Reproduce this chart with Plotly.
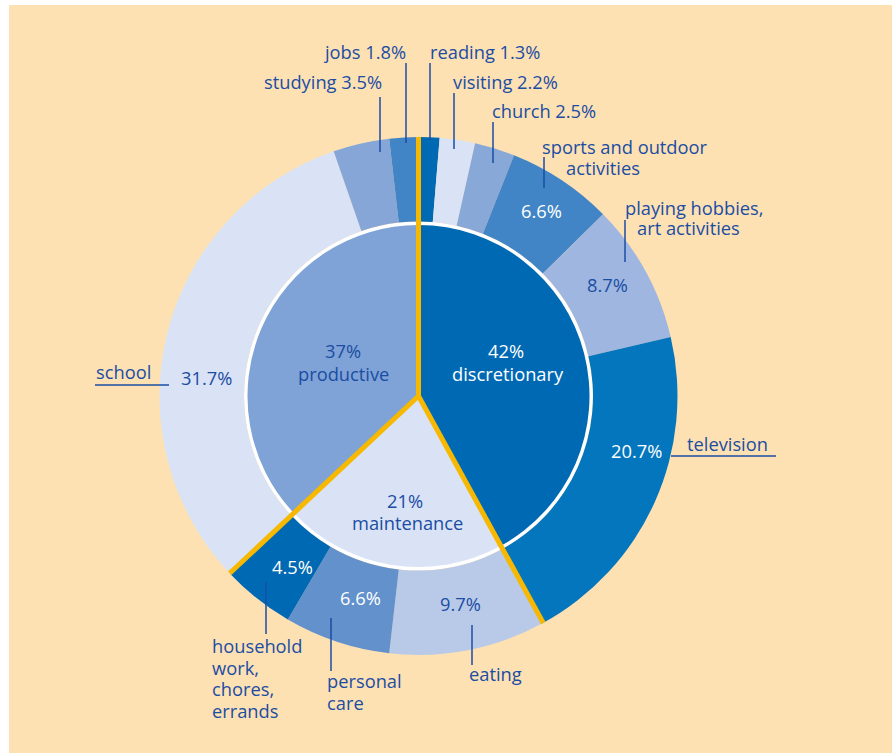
import math
import plotly.graph_objects as go

# ---------------- data ----------------
inner_labels = ["discretionary", "maintenance", "productive"]
inner_values = [42, 21, 37]
inner_colors = ["#0069B4", "#D9E3F5", "#7FA3D6"]

outer_labels = ["reading", "visiting", "church", "sports and outdoor activities",
                "playing hobbies, art activities", "television", "eating",
                "personal care", "household work, chores, errands", "school",
                "studying", "jobs"]
outer_values = [1.3, 2.2, 2.5, 6.6, 8.7, 20.7, 9.7, 6.6, 4.5, 31.7, 3.5, 1.8]
outer_colors = ["#0069B4", "#D9E3F5", "#88A8D8", "#4285C6", "#9FB7E0", "#0476BE",
                "#B9CAE9", "#6291CC", "#0069B4", "#D9E3F5", "#86A6D7", "#4285C6"]

# ---------------- layout constants ----------------
W, H = 892, 753
CX, CY = 418.5, 396.0        # pie centre (px)
R_OUT, R_WHITE, R_IN = 259.0, 174.5, 171.0
BG = "#FDE1B3"
BLUE = "#1B4DA3"
YELLOW = "#F6B800"
FONT = "Open Sans"
FS = 18.3
DY = -1.5  # small vertical text correction


def px(x):
    return x / W


def py(y):
    return 1 - y / H


def dom(r):
    return dict(x=[px(CX - r), px(CX + r)], y=[py(CY + r), py(CY - r)])


fig = go.Figure()
# white disk forming the separating ring
fig.add_trace(go.Pie(values=[1], marker=dict(colors=["#FFFFFF"], line=dict(width=0)),
                     domain=dom(R_WHITE), textinfo="none", sort=False,
                     hoverinfo="skip", showlegend=False))
# inner pie
fig.add_trace(go.Pie(labels=inner_labels, values=inner_values,
                     marker=dict(colors=inner_colors, line=dict(width=0)),
                     domain=dom(R_IN), textinfo="none", sort=False,
                     direction="clockwise", rotation=0, showlegend=False))
# outer ring
fig.add_trace(go.Pie(labels=outer_labels, values=outer_values,
                     marker=dict(colors=outer_colors, line=dict(width=0)),
                     domain=dom(R_OUT), hole=R_WHITE / R_OUT, textinfo="none",
                     sort=False, direction="clockwise", rotation=0, showlegend=False))

shapes = []
# white strips on left and top edges
shapes.append(dict(type="rect", xref="paper", yref="paper", x0=0, x1=px(9), y0=0, y1=1,
                   fillcolor="white", line=dict(width=0), layer="above"))
shapes.append(dict(type="rect", xref="paper", yref="paper", x0=0, x1=1, y0=py(5), y1=1,
                   fillcolor="white", line=dict(width=0), layer="above"))

# yellow divider lines at inner group boundaries
tot = sum(inner_values)
cum = 0
for v in [0] + inner_values[:-1]:
    cum += v
    ang = 2 * math.pi * cum / tot
    ex = CX + R_OUT * math.sin(ang)
    ey = CY - R_OUT * math.cos(ang)
    shapes.append(dict(type="line", xref="paper", yref="paper",
                       x0=px(CX), y0=py(CY), x1=px(ex), y1=py(ey),
                       line=dict(color=YELLOW, width=5), layer="above"))

# leader lines (px): (x0,y0,x1,y1)
leaders = [
    (380, 97, 380, 152),   # studying
    (406, 63, 406, 143),   # jobs
    (430, 63, 430, 140),   # reading
    (454, 93, 454, 149),   # visiting
    (493, 122, 493, 163),  # church
    (544, 157, 544, 188),  # sports
    (625, 220, 625, 262),  # hobbies
    (95, 385, 169, 385),   # school
    (671, 456, 776, 456),  # television
    (266, 582, 266, 634),  # household
    (331, 618, 331, 671),  # personal care
    (472, 625, 472, 665),  # eating
]
for x0, y0, x1, y1 in leaders:
    shapes.append(dict(type="line", xref="paper", yref="paper",
                       x0=px(x0), y0=py(y0), x1=px(x1), y1=py(y1),
                       line=dict(color=BLUE, width=1.5), layer="above"))

ann = []


def add(text, x, y, color=BLUE, xanchor="center"):
    ann.append(dict(text=text, x=px(x), y=py(y + DY), xref="paper", yref="paper",
                    xanchor=xanchor, yanchor="middle", showarrow=False,
                    font=dict(family=FONT, size=FS, color=color)))


def pct(v):
    return f"{v:g}%"


ov = dict(zip(outer_labels, outer_values))
iv = dict(zip(inner_labels, inner_values))

# inner pie labels
add(pct(iv["productive"]), 343, 352)
add("productive", 343, 375)
add(pct(iv["discretionary"]), 506, 352, color="white")
add("discretionary", 508, 375, color="white")
add(pct(iv["maintenance"]), 405, 502)
add("maintenance", 407, 524)

# top labels
add(f"studying {ov['studying']}%", 384, 83, xanchor="right")
add(f"jobs {ov['jobs']}%", 322, 53, xanchor="left")
add(f"reading {ov['reading']}%", 428, 53, xanchor="left")
add(f"visiting {ov['visiting']}%", 451, 83, xanchor="left")
add(f"church {ov['church']}%", 490, 112, xanchor="left")
add("sports and outdoor", 540, 148, xanchor="left")
add("activities", 564, 169, xanchor="left")
add(pct(ov["sports and outdoor activities"]), 541, 212, color="white")
add("playing hobbies,", 623, 209, xanchor="left")
add("art activities", 635, 229, xanchor="left")
add(pct(ov["playing hobbies, art activities"]), 607, 286)

# side labels
add("school", 94, 373, xanchor="left")
add(pct(ov["school"]), 206, 379)
add("television", 685, 445, xanchor="left")
add(pct(ov["television"]), 636, 452, color="white")

# bottom labels
add(pct(ov["household work, chores, errands"]), 292, 568, color="white")
for i, line in enumerate(["household", "work,", "chores,", "errands"]):
    add(line, 210, 647 + i * 21.7, xanchor="left")
add(pct(ov["personal care"]), 360, 599, color="white")
for i, line in enumerate(["personal", "care"]):
    add(line, 325, 682 + i * 21.5, xanchor="left")
add(pct(ov["eating"]), 460, 605)
add("eating", 467, 675, xanchor="left")

fig.update_layout(width=W, height=H, margin=dict(l=0, r=0, t=0, b=0),
                  paper_bgcolor=BG, plot_bgcolor=BG, shapes=shapes, annotations=ann,
                  showlegend=False)
fig.write_html("out.html")
